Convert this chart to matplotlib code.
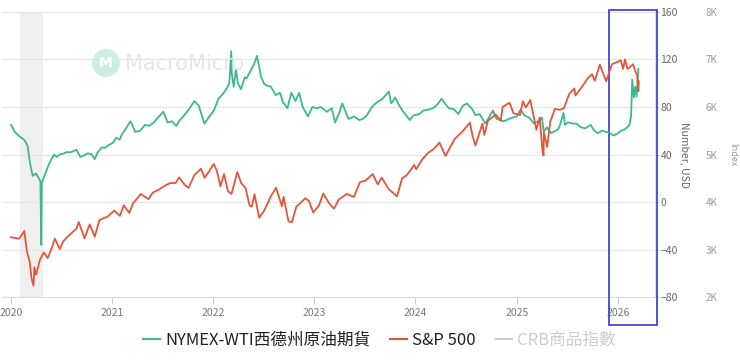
import matplotlib
matplotlib.use("Agg")
import matplotlib.pyplot as plt
import matplotlib.dates as mdates
from matplotlib.lines import Line2D
from matplotlib.patches import Rectangle, Ellipse
import pandas as pd

plt.rcParams["font.family"] = ["Noto Sans CJK TC", "DejaVu Sans"]

# NYMEX-WTI crude (USD); one line per year
wti_dates = [
    "2020-01-02", "2020-01-15", "2020-02-03", "2020-02-20", "2020-03-02", "2020-03-10", "2020-03-20", "2020-04-01", "2020-04-14", "2020-04-17", "2020-04-20", "2020-04-22", "2020-05-01", "2020-05-18", "2020-06-05", "2020-06-15", "2020-06-25", "2020-07-06", "2020-07-20", "2020-08-05", "2020-08-25", "2020-09-08", "2020-09-15", "2020-10-05", "2020-10-20", "2020-10-30", "2020-11-10", "2020-11-25", "2020-12-05", "2020-12-20",
    "2021-01-05", "2021-01-15", "2021-01-28", "2021-02-05", "2021-02-20", "2021-03-08", "2021-03-15", "2021-03-25", "2021-04-12", "2021-04-30", "2021-05-15", "2021-05-31", "2021-06-15", "2021-07-05", "2021-07-20", "2021-08-05", "2021-08-20", "2021-09-01", "2021-09-15", "2021-10-05", "2021-10-25", "2021-11-10", "2021-11-30", "2021-12-15", "2021-12-31",
    "2022-01-05", "2022-01-20", "2022-02-05", "2022-02-20", "2022-02-28", "2022-03-07", "2022-03-09", "2022-03-16", "2022-03-24", "2022-03-31", "2022-04-11", "2022-04-25", "2022-05-01", "2022-05-15", "2022-05-30", "2022-06-08", "2022-06-15", "2022-06-22", "2022-07-05", "2022-07-15", "2022-07-28", "2022-08-15", "2022-08-30", "2022-09-10", "2022-09-26", "2022-10-10", "2022-10-25", "2022-11-07", "2022-11-20", "2022-12-09", "2022-12-25",
    "2023-01-10", "2023-01-25", "2023-02-15", "2023-03-05", "2023-03-17", "2023-04-01", "2023-04-12", "2023-05-04", "2023-05-25", "2023-06-12", "2023-06-25", "2023-07-10", "2023-07-25", "2023-08-10", "2023-09-05", "2023-09-27", "2023-10-06", "2023-10-20", "2023-11-02", "2023-11-15", "2023-12-12", "2023-12-25",
    "2024-01-15", "2024-01-30", "2024-02-20", "2024-03-05", "2024-03-20", "2024-04-05", "2024-04-20", "2024-05-01", "2024-05-20", "2024-06-04", "2024-06-20", "2024-07-05", "2024-07-25", "2024-08-05", "2024-08-20", "2024-09-10", "2024-10-07", "2024-10-20", "2024-11-15", "2024-12-15",
    "2025-01-01", "2025-01-15", "2025-01-28", "2025-02-15", "2025-03-05", "2025-03-25", "2025-04-02", "2025-04-09", "2025-04-20", "2025-05-05", "2025-05-30", "2025-06-05", "2025-06-19", "2025-06-24", "2025-07-05", "2025-07-25", "2025-08-05", "2025-08-20", "2025-09-05", "2025-09-25", "2025-10-05", "2025-10-20", "2025-11-05", "2025-11-20", "2025-12-01", "2025-12-16", "2025-12-30",
    "2026-01-12", "2026-01-25", "2026-02-05", "2026-02-12", "2026-02-18", "2026-02-22", "2026-02-28", "2026-03-05", "2026-03-10", "2026-03-16",
]
wti_usd = [
    65, 59, 55, 52, 47, 33, 22, 24, 19, 17, -36, 16, 22, 32, 40, 38, 40, 40.5, 42, 42, 44, 38, 38.5, 41, 40, 36, 42, 46, 45.5, 48,
    50, 54, 52.5, 57, 62, 68, 65, 59, 60, 65, 64, 67, 71, 76, 67, 68, 64, 68.5, 72, 78, 85, 81, 66, 71, 76,
    78, 87, 91, 96, 100, 127, 108, 97, 112, 100, 95, 105, 104, 110, 117, 123, 115, 106, 99, 98, 97, 90, 92, 84, 79, 92, 85, 92, 80, 72, 80,
    79, 80, 76, 79, 67, 75, 83, 70, 72, 69, 70, 73, 79, 83, 87, 93, 83, 88, 82, 77, 69, 73,
    74, 77, 78, 79, 82, 87, 82, 79, 78, 74, 81, 83, 78, 73, 74, 66, 77, 70, 68, 71,
    72, 78, 73, 71, 66, 69, 71, 59, 63, 58, 61, 64, 75, 65, 67, 66, 66, 63, 62, 65, 61, 58, 60, 59, 58.5, 56, 57.5,
    60, 61, 63, 65, 72, 103, 88, 97, 89, 112,
]

# S&P 500 index level; one line per year
spx_dates = [
    "2020-01-02", "2020-01-31", "2020-02-19", "2020-02-28", "2020-03-09", "2020-03-16", "2020-03-23", "2020-03-26", "2020-04-01", "2020-04-15", "2020-04-29", "2020-05-13", "2020-05-28", "2020-06-08", "2020-06-26", "2020-07-08", "2020-07-20", "2020-08-10", "2020-08-25", "2020-09-02", "2020-09-23", "2020-10-12", "2020-10-30", "2020-11-16", "2020-12-01", "2020-12-15",
    "2021-01-08", "2021-01-29", "2021-02-12", "2021-03-04", "2021-03-17", "2021-04-15", "2021-05-12", "2021-05-28", "2021-06-15", "2021-07-15", "2021-07-30", "2021-08-18", "2021-08-31", "2021-09-20", "2021-10-04", "2021-10-25", "2021-11-18", "2021-12-01", "2021-12-15",
    "2022-01-03", "2022-01-14", "2022-01-27", "2022-02-09", "2022-02-23", "2022-03-08", "2022-03-29", "2022-04-12", "2022-04-28", "2022-05-12", "2022-05-20", "2022-05-30", "2022-06-16", "2022-07-05", "2022-07-29", "2022-08-16", "2022-09-06", "2022-09-12", "2022-09-30", "2022-10-12", "2022-10-28", "2022-11-30", "2022-12-13", "2022-12-28",
    "2023-01-18", "2023-02-02", "2023-02-24", "2023-03-13", "2023-03-30", "2023-04-28", "2023-05-24", "2023-06-15", "2023-07-05", "2023-07-31", "2023-08-18", "2023-09-01", "2023-09-27", "2023-10-27", "2023-11-14", "2023-11-30", "2023-12-28",
    "2024-01-04", "2024-01-25", "2024-02-15", "2024-03-08", "2024-03-28", "2024-04-19", "2024-05-21", "2024-06-18", "2024-07-16", "2024-07-25", "2024-08-05", "2024-08-30", "2024-09-06", "2024-09-19", "2024-10-17", "2024-11-04", "2024-11-11", "2024-12-06", "2024-12-20",
    "2025-01-13", "2025-01-23", "2025-02-03", "2025-02-19", "2025-03-13", "2025-03-25", "2025-04-04", "2025-04-08", "2025-04-09", "2025-04-21", "2025-05-02", "2025-05-19", "2025-06-05", "2025-06-20", "2025-07-10", "2025-07-28", "2025-08-01", "2025-08-29", "2025-09-15", "2025-09-30", "2025-10-10", "2025-10-28", "2025-11-20", "2025-12-11", "2025-12-24",
    "2026-01-12", "2026-01-20", "2026-01-27", "2026-02-05", "2026-02-12", "2026-02-25", "2026-03-06", "2026-03-12", "2026-03-16", "2026-03-18",
]
spx_index = [
    3260, 3230, 3390, 2955, 2750, 2390, 2240, 2630, 2470, 2780, 2940, 2820, 3030, 3230, 3010, 3170, 3250, 3360, 3440, 3580, 3240, 3530, 3270, 3620, 3660, 3690,
    3820, 3710, 3930, 3770, 3970, 4170, 4060, 4200, 4250, 4360, 4400, 4400, 4520, 4360, 4300, 4570, 4700, 4510, 4630,
    4800, 4660, 4330, 4590, 4230, 4170, 4630, 4400, 4290, 3930, 3900, 4160, 3670, 3830, 4130, 4300, 3910, 4110, 3590, 3577, 3900, 4080, 4020, 3780,
    3930, 4180, 3970, 3860, 4050, 4170, 4110, 4420, 4450, 4590, 4370, 4515, 4270, 4120, 4500, 4560, 4780,
    4690, 4890, 5030, 5120, 5250, 4970, 5320, 5480, 5670, 5400, 5190, 5650, 5410, 5710, 5840, 5710, 6000, 6090, 5870,
    5830, 6120, 5990, 6145, 5520, 5780, 5070, 4980, 5460, 5160, 5690, 5960, 5940, 5970, 6280, 6390, 6240, 6460, 6610, 6690, 6550, 6890, 6540, 6900, 6930,
    6980, 6800, 7000, 6800, 6830, 6900, 6740, 6670, 6330, 6540,
]

wti_ticks = [-80, -40, 0, 40, 80, 120, 160]
spx_ticks = [2000, 3000, 4000, 5000, 6000, 7000, 8000]
spx_tick_labels = ["2K", "3K", "4K", "5K", "6K", "7K", "8K"]
recession = ("2020-02-03", "2020-04-28")

GREEN = "#3cb890"
RED = "#e5553a"

fig = plt.figure(figsize=(7.4, 3.61), dpi=100)
ax = fig.add_axes([0.003, 0.177, 0.882, 0.79])
ax2 = ax.twinx()
ax.set_zorder(ax2.get_zorder() - 1)
ax2.patch.set_visible(False)

ax.axvspan(pd.Timestamp(recession[0]), pd.Timestamp(recession[1]), color="#f0f0f0", lw=0, zorder=0)
for t in wti_ticks:
    ax.axhline(t, color="#e6e6e6", lw=0.8, zorder=0.5)

# WTI is mapped onto the index axis (-80..160 USD <-> 2K..8K)
ax2.plot(pd.to_datetime(wti_dates), [4000 + v * 25 for v in wti_usd], color=GREEN, lw=1.3, zorder=2)
ax2.plot(pd.to_datetime(spx_dates), spx_index, color=RED, lw=1.3, zorder=3)

ax.set_xlim(pd.Timestamp("2019-12-01"), pd.Timestamp("2026-05-15"))
ax.set_ylim(-80, 160)
ax2.set_ylim(2000, 8000)

# WTI axis on the right
ax.yaxis.tick_right()
ax.yaxis.set_label_position("right")
ax.set_yticks(wti_ticks)
ax.tick_params(axis="y", colors="#cccccc", labelcolor="#666666", labelsize=7.5, length=3, pad=1)
ax.set_ylabel("Number, USD", color="#666666", fontsize=7.5, rotation=-90, labelpad=8)

ax.xaxis.set_major_locator(mdates.YearLocator())
ax.xaxis.set_major_formatter(mdates.DateFormatter("%Y"))
ax.tick_params(axis="x", colors="#cccccc", labelcolor="#777777", labelsize=7.5, length=5, pad=3)

for s in ["top", "left"]:
    ax.spines[s].set_visible(False)
ax.spines["bottom"].set_color("#dddddd")
ax.spines["right"].set_color("#dddddd")

# Index axis further right
ax2.spines["right"].set_position(("axes", 1.078))
for s in ax2.spines.values():
    s.set_visible(False)
ax2.set_yticks(spx_ticks)
ax2.set_yticklabels(spx_tick_labels)
ax2.tick_params(axis="y", length=0, labelcolor="#999999", labelsize=7, pad=0)
ax2.set_ylabel("Index", color="#999999", fontsize=6.5, rotation=-90, labelpad=14)

# highlight box
ax.add_patch(Rectangle((0.930, -0.098), 0.073, 1.105, transform=ax.transAxes,
                       fill=False, edgecolor="#3535d0", lw=1.2, clip_on=False, zorder=5))

# watermark
fig.patches.append(Ellipse((106 / 740, 1 - 63 / 361), 28 / 740, 28 / 361, transform=fig.transFigure,
                           facecolor="#cdeee2", edgecolor="none", zorder=0))
fig.text(106 / 740, 1 - 63 / 361, "M", fontsize=10, color="white", fontweight="bold",
         va="center", ha="center", family="DejaVu Sans", zorder=0)
fig.text(125 / 740, 1 - 64 / 361, "MacroMicro", fontsize=15, color="#e6e6e6",
         va="center", ha="left", family="DejaVu Sans", zorder=0)

handles = [
    Line2D([], [], color=GREEN, lw=1.5),
    Line2D([], [], color=RED, lw=1.5),
    Line2D([], [], color="#cccccc", lw=1.5),
]
leg = fig.legend(handles, ["NYMEX-WTI西德州原油期貨", "S&P 500", "CRB商品指數"],
                 loc="center", bbox_to_anchor=(0.513, 0.058), ncol=3, frameon=False,
                 fontsize=12, handlelength=1.0, handletextpad=0.3, columnspacing=1.2)
leg.get_texts()[2].set_color("#cccccc")
for txt in leg.get_texts()[:2]:
    txt.set_color("#222222")

fig.savefig("out.png", dpi=100)
